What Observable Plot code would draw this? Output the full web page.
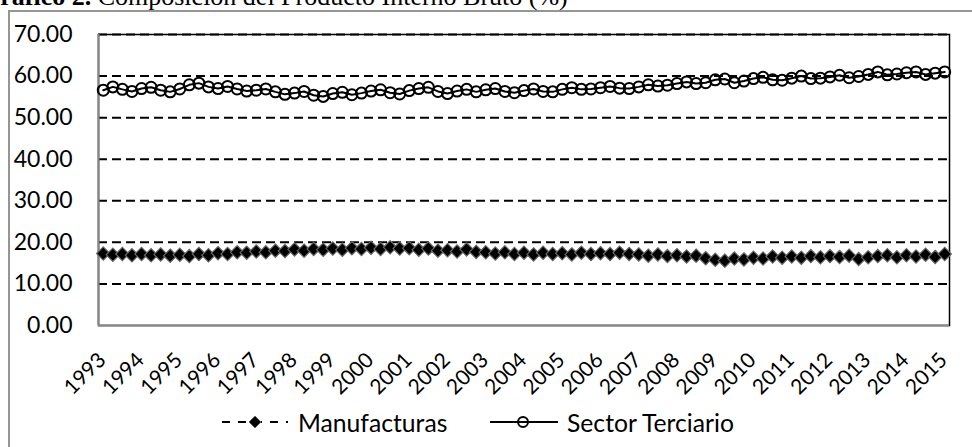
<!DOCTYPE html>
<html>
<head>
<meta charset="utf-8">
<script src="https://cdn.jsdelivr.net/npm/d3@7"></script>
<script src="https://cdn.jsdelivr.net/npm/@observablehq/plot@0.6"></script>
<style>
  html, body { margin: 0; padding: 0; background: #fff; }
  #wrap { position: relative; width: 972px; height: 447px; overflow: hidden; background: #fff; }
  #border { position: absolute; left: 8px; top: 10px; width: 1000px; height: 500px; border: 2px solid #959595; box-sizing: border-box; }
  #title { position: absolute; left: -20px; top: -16px; font-family: "Liberation Serif", "Times New Roman", serif; font-size: 26px; line-height: 26px; white-space: nowrap; color: #000; }
  #chart { position: absolute; left: 0; top: 0; }
  .leg { position: absolute; font-family: Lato, "Open Sans", sans-serif; font-size: 24.7px; color: #000; white-space: nowrap; line-height: 24px; }
  .legsym { position: absolute; }
</style>
</head>
<body>
<div id="wrap">
  <div id="border"></div>
  <div id="title"><b>Gráfico 2.</b> Composición del Producto Interno Bruto (%)</div>
  <div id="chart"></div>
  <svg class="legsym" style="left:220px;top:412px" width="70" height="20">
    <line x1="2" y1="10" x2="68" y2="10" stroke="#000" stroke-width="2" stroke-dasharray="8,8"></line>
    <path d="M35,4 L41,10 L35,16 L29,10 Z" fill="#000" stroke="#666" stroke-width="1"></path>
  </svg>
  <div class="leg" style="left:298px;top:411px">Manufacturas</div>
  <svg class="legsym" style="left:489px;top:412px" width="70" height="20">
    <line x1="1" y1="10" x2="69" y2="10" stroke="#000" stroke-width="2"></line>
    <circle cx="34" cy="10" r="5" fill="none" stroke="#000" stroke-width="2"></circle>
  </svg>
  <div class="leg" style="left:567px;top:411px">Sector Terciario</div>
</div>
<script>
// Year tick labels (one every 4 quarters, 1993Q1 .. 2015Q1)
const yearLabels = ["1993","1994","1995","1996","1997","1998","1999","2000","2001","2002","2003","2004","2005","2006","2007","2008","2009","2010","2011","2012","2013","2014","2015"];
const yTicks = [0, 10, 20, 30, 40, 50, 60, 70];

// Manufacturas (% of GDP), quarterly 1993Q1 .. 2015Q1
const manufacturas = [
  17.3, 17.0, 17.2, 16.9,
  17.2, 16.9, 17.1, 16.8,
  17.0, 16.7, 17.2, 16.9,
  17.4, 17.2, 17.6, 17.5,
  17.8, 17.6, 18.0, 17.9,
  18.3, 18.0, 18.4, 18.2,
  18.5, 18.2, 18.6, 18.4,
  18.7, 18.4, 18.8, 18.5,
  18.6, 18.2, 18.5, 18.0,
  18.1, 17.8, 18.3, 17.7,
  17.6, 17.3, 17.6, 17.2,
  17.5, 17.1, 17.5, 17.2,
  17.4, 17.1, 17.5, 17.2,
  17.4, 17.2, 17.5, 17.2,
  17.1, 16.8, 17.1, 16.7,
  16.9, 16.6, 16.8, 16.2,
  15.8, 15.6, 16.1, 15.9,
  16.3, 16.1, 16.6, 16.3,
  16.6, 16.3, 16.7, 16.4,
  16.7, 16.5, 16.8, 16.0,
  16.4, 16.7, 16.9, 16.4,
  16.9, 16.6, 17.0, 16.5,
  17.2
];

// Sector Terciario (% of GDP), quarterly 1993Q1 .. 2015Q1
const terciario = [
  56.6, 57.4, 56.8, 56.3,
  57.0, 57.3, 56.6, 56.2,
  56.9, 57.9, 58.3, 57.4,
  57.0, 57.5, 56.9, 56.4,
  56.6, 56.9, 56.2, 55.6,
  55.9, 56.3, 55.4, 55.1,
  55.8, 56.1, 55.5, 55.9,
  56.4, 56.7, 56.0, 55.7,
  56.5, 57.0, 57.3, 56.3,
  55.8, 56.4, 56.8, 56.2,
  56.7, 57.0, 56.3, 56.0,
  56.5, 56.9, 56.3, 56.2,
  56.8, 57.2, 56.8, 56.9,
  57.2, 57.5, 57.1, 57.0,
  57.4, 57.9, 57.6, 57.8,
  58.2, 58.6, 58.2, 58.4,
  59.1, 59.3, 58.4, 58.8,
  59.4, 59.7, 59.1, 59.0,
  59.5, 60.0, 59.4, 59.5,
  59.8, 60.2, 59.6, 59.9,
  60.4, 61.0, 60.3, 60.5,
  60.8, 61.0, 60.4, 60.7,
  61.0
];

const manData = manufacturas.map((v, i) => ({i, v}));
const terData = terciario.map((v, i) => ({i, v}));
const tickIdx = yearLabels.map((_, k) => k * 4);
const n = terciario.length;

const chart = Plot.plot({
  width: 972,
  height: 447,
  marginLeft: 98,
  marginRight: 23,
  marginTop: 34,
  marginBottom: 122,
  x: {domain: [-0.5, n - 0.5], axis: null},
  y: {domain: [0, 70], axis: null},
  style: {fontFamily: "Lato, 'Open Sans', sans-serif", background: "transparent", overflow: "visible", color: "#000"},
  marks: [
    Plot.gridY(yTicks.filter(d => d > 0), {stroke: "#000", strokeOpacity: 1, strokeWidth: 2, strokeDasharray: "9,5"}),
    Plot.frame({stroke: "#000", strokeWidth: 1.5}),
    Plot.ruleX([-0.5], {stroke: "#868686", strokeWidth: 2}),
    Plot.ruleY([0], {stroke: "#868686", strokeWidth: 2}),
    Plot.axisY(yTicks, {label: null, tickSize: 0, tickPadding: 26, tickFormat: d => d.toFixed(2), fontSize: 23, fill: "#000"}),
    Plot.text(tickIdx, {x: d => d, text: (d, k) => yearLabels[k], frameAnchor: "bottom", rotate: -45, textAnchor: "end", lineAnchor: "middle", dy: 31, dx: -1, fontSize: 21, fill: "#000"}),
    Plot.line(manData, {x: "i", y: "v", stroke: "#000", strokeWidth: 2, strokeDasharray: "8,5"}),
    Plot.dot(manData, {x: "i", y: "v", symbol: "diamond2", r: 6, fill: "#000", stroke: "#666", strokeWidth: 1.2}),
    Plot.line(terData, {x: "i", y: "v", stroke: "#000", strokeWidth: 2}),
    Plot.dot(terData, {x: "i", y: "v", symbol: "circle", r: 5.5, fill: "none", stroke: "#000", strokeWidth: 2})
  ]
});
document.getElementById("chart").appendChild(chart);
</script>
</body>
</html>
